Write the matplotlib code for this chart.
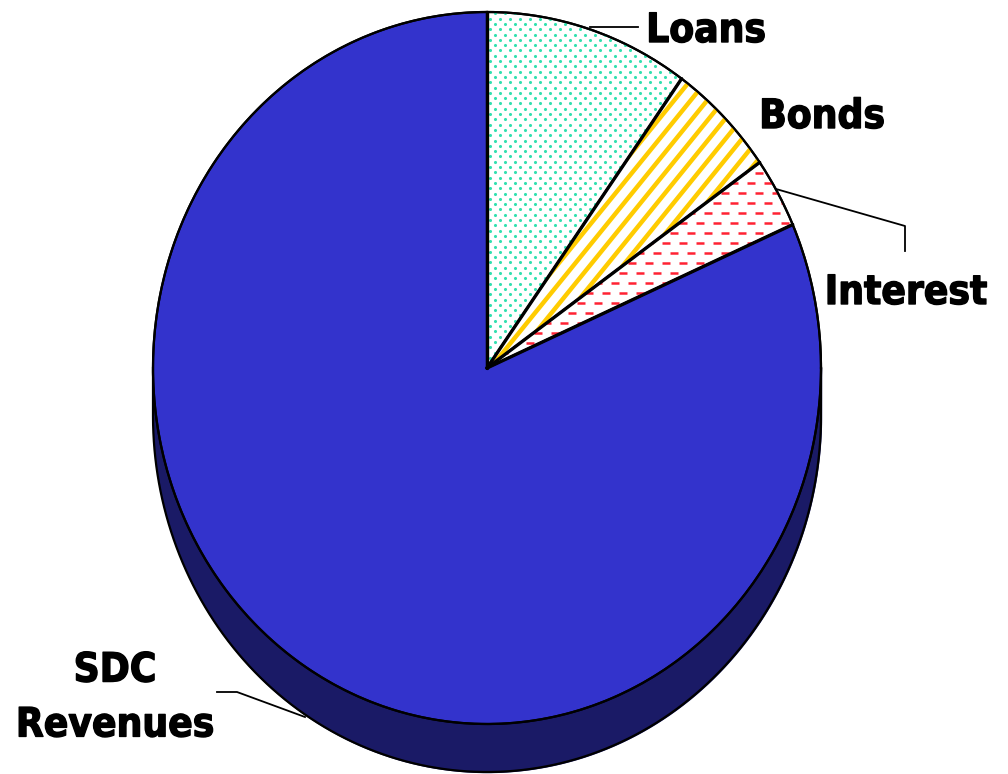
import numpy as np
from matplotlib import pyplot as plt
from matplotlib import patheffects
from matplotlib.transforms import Affine2D

# Funding sources, share of total
categories = ["Loans", "Bonds", "Interest", "SDC Revenues"]
shares = [9.9, 5.3, 3.2, 81.6]

CX, CY = 487, 368
RX, RY = 334, 356
DEPTH = 48

fig = plt.figure(figsize=(10.08, 7.74), dpi=100)
ax = fig.add_axes([0, 0, 1, 1])

# Pie in unit coordinates, stretched onto the pixel axes
wedges, _ = ax.pie(shares, startangle=90, counterclock=False,
                   colors=["white", "white", "white", "#3333CC"],
                   wedgeprops={"edgecolor": "black", "linewidth": 1.6, "zorder": 3})
ax.set_aspect("auto")
ax.set_xlim(0, 1008)
ax.set_ylim(774, 0)
ax.axis("off")
ellipse = Affine2D().scale(RX, -RY).translate(CX, CY) + ax.transData
for w in wedges:
    w.set_transform(ellipse)

# Side wall of the disc
t = np.linspace(0, np.pi, 400)
xs = CX + RX * np.cos(t)
ys = CY + RY * np.sin(t) + DEPTH
ax.fill_between(xs, CY, ys, color="#1A1A66", zorder=1)
ax.plot(np.r_[xs[0], xs, xs[-1]], np.r_[CY, ys, CY], color="black", lw=1.6, zorder=2)

# Loans: staggered teal dots
gx, gy = np.meshgrid(np.arange(480, 700, 10.0), np.arange(8, 372, 5.3))
gx[1::2] += 5
dots = ax.scatter(gx.ravel(), gy.ravel(), s=5, color="#33E0B0", linewidths=0, zorder=4)
dots.set_clip_path(wedges[0])

# Bonds: parallel gold stripes, x + 0.81 * y is constant along each one
for c in np.arange(755.5, 890, 16.5):
    sx = np.array([c - 0.81 * 60, c - 0.81 * 380])
    stripe, = ax.plot(sx, [60, 380], color="#FFCC00", lw=3.2, zorder=4, solid_capstyle="butt")
    stripe.set_clip_path(wedges[1])

# Interest: rows of red dashes, every other row shifted
for i, y in enumerate(np.arange(172.7, 368, 10)):
    starts = np.arange(483, 810, 17.0) + (8.5 if i % 2 else 0)
    dashes = ax.hlines(np.full(starts.shape, y), starts, starts + 8,
                       colors="#FF2233", lw=1.8, zorder=4)
    dashes.set_clip_path(wedges[2])

# Heavier spokes between the slices
angles = 90 - 360 * np.concatenate([[0], np.cumsum(shares[:-1])]) / np.sum(shares)
for ang in angles:
    a = np.radians(ang)
    ax.plot([0, np.cos(a)], [0, np.sin(a)], color="black", lw=2.4, zorder=5,
            transform=ellipse, solid_capstyle="round")

# Redraw the rim of the slices above the fills
theta = np.linspace(0, 2 * np.pi, 500)
ax.plot(CX + RX * np.cos(theta), CY + RY * np.sin(theta), color="black", lw=1.6, zorder=5)

# Leader lines
line = {"color": "black", "lw": 1.3, "zorder": 6}
ax.plot([590, 638], [27, 27], **line)
ax.plot([776, 905, 905], [189, 226, 251], **line)
ax.plot([217, 237, 305], [692, 692, 717], **line)

# Slice labels, thickened with a thin stroke
heavy = [patheffects.withStroke(linewidth=1.0, foreground="black")]
font = {"family": "DejaVu Sans", "weight": "bold", "stretch": "condensed",
        "size": 29, "ha": "center", "va": "center", "color": "black", "zorder": 7,
        "path_effects": heavy}
ax.text(706, 31, "Loans", **font)
ax.text(822, 117, "Bonds", **font)
ax.text(906, 293, "Interest", **font)
ax.text(115, 698, "SDC\nRevenues", linespacing=1.48, **font)

fig.savefig("out.png", dpi=100)
